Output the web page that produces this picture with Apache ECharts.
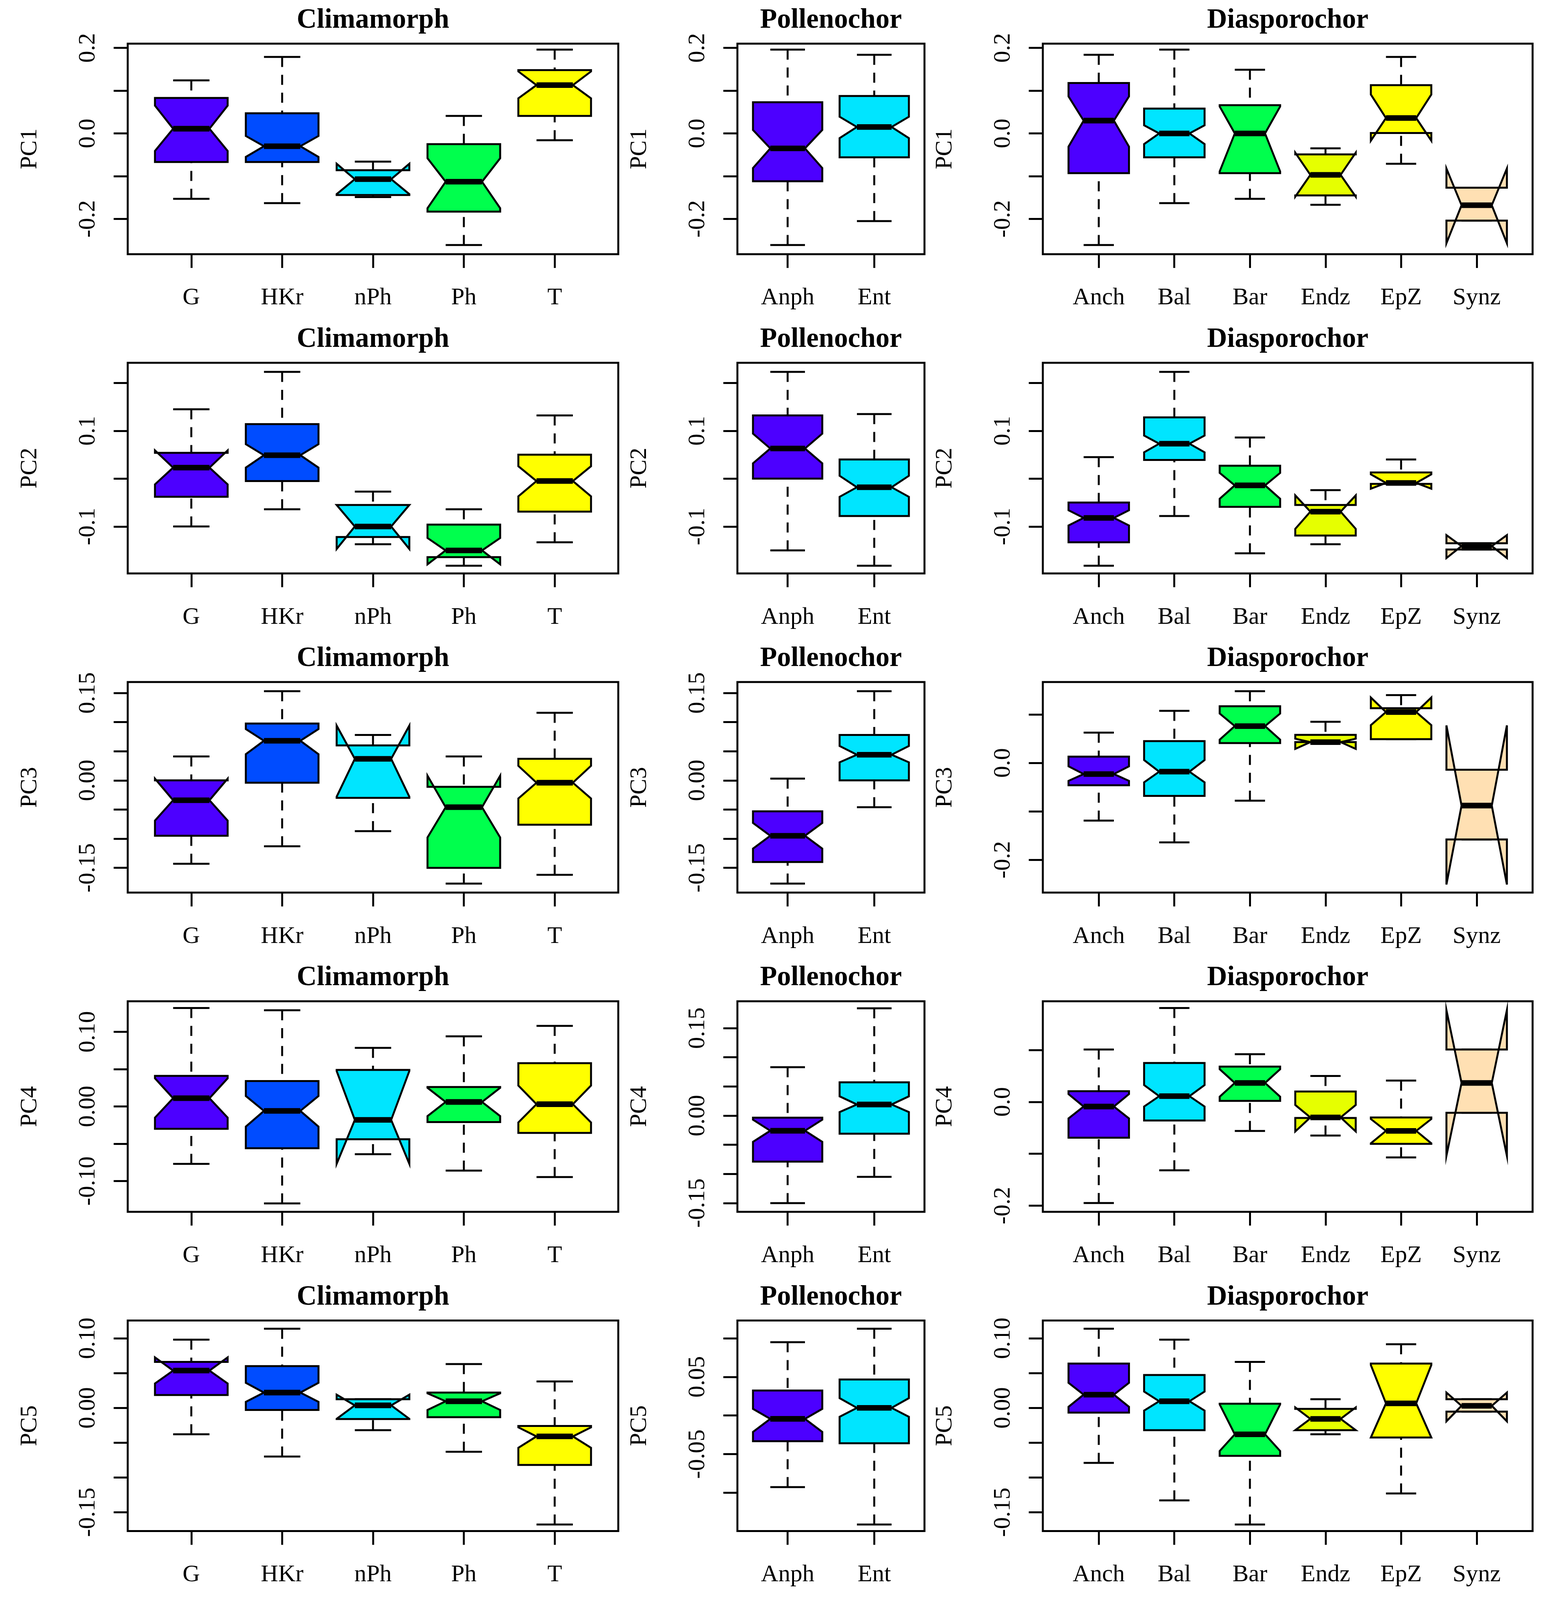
<!DOCTYPE html>
<html>
<head>
<meta charset="utf-8">
<script src="https://cdn.jsdelivr.net/npm/echarts@6/dist/echarts.min.js"></script>
<style>html,body{margin:0;padding:0;background:#fff;overflow:hidden}#c{width:3966px;height:4293px}</style>
</head>
<body>
<div id="c"></div>
<script>
// ---------- categories ----------
const climCats = ['G', 'HKr', 'nPh', 'Ph', 'T'];
const pollCats = ['Anph', 'Ent'];
const diasCats = ['Anch', 'Bal', 'Bar', 'Endz', 'EpZ', 'Synz'];
const pcNames = ['PC1', 'PC2', 'PC3', 'PC4', 'PC5'];
const groupTitles = ['Climamorph', 'Pollenochor', 'Diasporochor'];

// ---------- colours ----------
const climColors = ['#4C00FF', '#004CFF', '#00E5FF', '#00FF4D', '#FFFF00'];
const pollColors = ['#4C00FF', '#00E5FF'];
const diasColors = ['#4C00FF', '#00E5FF', '#00FF4D', '#E6FF00', '#FFFF00', '#FFE0B3'];

// ---------- box statistics: [lower whisker, Q1, notch low, median, notch high, Q3, upper whisker] ----------
const clim_PC1 = [
  [-0.153, -0.067, -0.041, 0.011, 0.065, 0.083, 0.124],
  [-0.163, -0.067, -0.055, -0.030, -0.006, 0.047, 0.179],
  [-0.149, -0.144, -0.142, -0.107, -0.071, -0.086, -0.066],
  [-0.261, -0.183, -0.175, -0.113, -0.058, -0.025, 0.041],
  [-0.016, 0.041, 0.082, 0.113, 0.145, 0.148, 0.196]
];
const poll_PC1 = [
  [-0.261, -0.112, -0.081, -0.035, 0.008, 0.073, 0.196],
  [-0.205, -0.056, -0.011, 0.015, 0.039, 0.0875, 0.184]
];
const dias_PC1 = [
  [-0.261, -0.093, -0.031, 0.030, 0.0865, 0.118, 0.184],
  [-0.163, -0.056, -0.025, 0.000, 0.019, 0.058, 0.196],
  [-0.153, -0.093, -0.089, 0.000, 0.063, 0.066, 0.149],
  [-0.167, -0.145, -0.148, -0.097, -0.045, -0.049, -0.035],
  [-0.071, 0.001, -0.017, 0.036, 0.091, 0.113, 0.179],
  [-0.204, -0.204, -0.257, -0.168, -0.082, -0.127, -0.127]
];

const clim_PC2 = [
  [-0.100, -0.038, -0.012, 0.023, 0.059, 0.054, 0.145],
  [-0.064, -0.005, 0.023, 0.049, 0.072, 0.114, 0.223],
  [-0.137, -0.122, -0.147, -0.100, -0.055, -0.055, -0.027],
  [-0.182, -0.164, -0.179, -0.150, -0.124, -0.096, -0.064],
  [-0.133, -0.069, -0.037, -0.005, 0.026, 0.050, 0.132]
];
const poll_PC2 = [
  [-0.150, 0.000, 0.032, 0.063, 0.094, 0.132, 0.223],
  [-0.182, -0.078, -0.038, -0.018, 0.006, 0.040, 0.135]
];
const dias_PC2 = [
  [-0.182, -0.133, -0.098, -0.082, -0.066, -0.050, 0.045],
  [-0.078, 0.039, 0.055, 0.073, 0.090, 0.128, 0.223],
  [-0.156, -0.059, -0.042, -0.014, 0.012, 0.027, 0.086],
  [-0.137, -0.119, -0.105, -0.069, -0.035, -0.055, -0.024],
  [-0.011, -0.011, -0.021, -0.009, 0.009, 0.013, 0.040],
  [-0.148, -0.148, -0.166, -0.141, -0.118, -0.135, -0.135]
];

const clim_PC3 = [
  [-0.143, -0.095, -0.069, -0.034, 0.003, 0.000, 0.041],
  [-0.113, -0.004, 0.045, 0.068, 0.088, 0.0975, 0.153],
  [-0.087, -0.030, -0.028, 0.037, 0.094, 0.060, 0.078],
  [-0.177, -0.150, -0.098, -0.046, 0.008, -0.011, 0.041],
  [-0.162, -0.076, -0.031, -0.004, 0.025, 0.037, 0.116]
];
const poll_PC3 = [
  [-0.177, -0.140, -0.117, -0.095, -0.073, -0.053, 0.003],
  [-0.046, 0.000, 0.031, 0.044, 0.059, 0.078, 0.153]
];
const dias_PC3 = [
  [-0.119, -0.046, -0.037, -0.023, -0.007, 0.013, 0.0625],
  [-0.164, -0.068, -0.040, -0.018, 0.006, 0.045, 0.1075],
  [-0.078, 0.041, 0.048, 0.076, 0.102, 0.117, 0.148],
  [0.043, 0.043, 0.029, 0.043, 0.050, 0.058, 0.085],
  [0.049, 0.049, 0.078, 0.105, 0.135, 0.113, 0.140],
  [-0.158, -0.158, -0.251, -0.088, 0.0775, -0.014, -0.014]
];

const clim_PC4 = [
  [-0.077, -0.030, -0.015, 0.011, 0.0377, 0.041, 0.132],
  [-0.130, -0.056, -0.027, -0.006, 0.014, 0.034, 0.129],
  [-0.064, -0.044, -0.077, -0.018, 0.0475, 0.049, 0.0785],
  [-0.086, -0.021, -0.013, 0.006, 0.025, 0.026, 0.094],
  [-0.0947, -0.0355, -0.0215, 0.003, 0.028, 0.058, 0.108]
];
const poll_PC4 = [
  [-0.150, -0.079, -0.045, -0.026, -0.007, -0.0036, 0.083],
  [-0.105, -0.031, 0.006, 0.019, 0.033, 0.057, 0.184]
];
const dias_PC4 = [
  [-0.195, -0.069, -0.032, -0.009, 0.015, 0.0205, 0.101],
  [-0.132, -0.036, -0.009, 0.011, 0.0325, 0.075, 0.181],
  [-0.056, 0.002, 0.010, 0.0365, 0.063, 0.068, 0.092],
  [-0.065, -0.031, -0.057, -0.030, -0.006, 0.020, 0.050],
  [-0.107, -0.081, -0.080, -0.056, -0.033, -0.030, 0.041],
  [-0.021, -0.021, -0.104, 0.0365, 0.177, 0.101, 0.101]
];

const clim_PC5 = [
  [-0.038, 0.0185, 0.035, 0.0536, 0.0726, 0.066, 0.098],
  [-0.070, -0.003, 0.0086, 0.022, 0.036, 0.060, 0.1137],
  [-0.032, -0.016, -0.0158, 0.0036, 0.019, 0.0125, 0.0125],
  [-0.063, -0.0134, -0.003, 0.0095, 0.021, 0.022, 0.063],
  [-0.1676, -0.082, -0.0574, -0.041, -0.028, -0.026, 0.038]
];
const poll_PC5 = [
  [-0.0927, -0.0332, -0.0212, -0.0043, 0.0086, 0.0324, 0.0949],
  [-0.141, -0.0359, -0.0016, 0.0099, 0.0225, 0.0466, 0.1123]
];
const dias_PC5 = [
  [-0.079, -0.0068, 0.0015, 0.019, 0.036, 0.0637, 0.1137],
  [-0.133, -0.032, -0.0039, 0.0095, 0.0235, 0.0473, 0.098],
  [-0.1676, -0.069, -0.062, -0.038, 0.005, 0.006, 0.066],
  [-0.038, -0.032, -0.032, -0.0158, 0.0006, -0.0015, 0.0125],
  [-0.123, -0.0426, -0.0426, 0.0065, 0.0616, 0.0637, 0.0914],
  [-0.0054, -0.0054, -0.0193, 0.003, 0.022, 0.0125, 0.0125]
];

// ---------- y axis ranges, tick values and labelled ticks ----------
const yRanges = [
  [[-0.2825, 0.2101], [-0.2825, 0.2101], [-0.2825, 0.2101]],
  [[-0.198, 0.242], [-0.198, 0.242], [-0.198, 0.242]],
  [[-0.1925, 0.1687], [-0.1925, 0.1687], [-0.2677, 0.167]],
  [[-0.1413, 0.141], [-0.165, 0.196], [-0.212, 0.194]],
  [[-0.177, 0.1256], [-0.1495, 0.123], [-0.177, 0.1256]]
];
const ticksA = [-0.2, -0.1, 0, 0.1, 0.2];
const ticksB = [-0.1, 0, 0.1, 0.2];
const ticksC = [-0.15, -0.1, -0.05, 0, 0.05, 0.1, 0.15];
const ticksD = [-0.2, -0.1, 0, 0.1];
const ticksE = [-0.1, -0.05, 0, 0.05, 0.1];
const ticksF = [-0.15, -0.1, -0.05, 0, 0.05, 0.1];
const yTicks = [
  [ticksA, ticksA, ticksA],
  [ticksB, ticksB, ticksB],
  [ticksC, ticksC, ticksD],
  [ticksE, ticksC, ticksD],
  [ticksF, ticksF, ticksF]
];
const yLabels = [
  [[-0.2, 0, 0.2], [-0.2, 0, 0.2], [-0.2, 0, 0.2]],
  [[-0.1, 0.1], [-0.1, 0.1], [-0.1, 0.1]],
  [[-0.15, 0, 0.15], [-0.15, 0, 0.15], [-0.2, 0]],
  [[-0.1, 0, 0.1], [-0.15, 0, 0.15], [-0.2, 0]],
  [[-0.15, 0, 0.1], [-0.15, -0.05, 0.05], [-0.15, 0, 0.1]]
];
const yDecimals = [
  [1, 1, 1],
  [1, 1, 1],
  [2, 2, 1],
  [2, 2, 1],
  [2, 2, 2]
];

const allData = [
  [clim_PC1, poll_PC1, dias_PC1],
  [clim_PC2, poll_PC2, dias_PC2],
  [clim_PC3, poll_PC3, dias_PC3],
  [clim_PC4, poll_PC4, dias_PC4],
  [clim_PC5, poll_PC5, dias_PC5]
];
const allCats = [climCats, pollCats, diasCats];
const allColors = [climColors, pollColors, diasColors];

// ---------- layout (designed for 3966 x 4293, fitted to the visible viewport) ----------
const VW = window.innerWidth || 3966;
const VH = window.innerHeight || 4293;
const sx = Math.min(1, VW / 3966);
const sy = Math.min(1, VH / 4293);
const fs = Math.sqrt(sx * sy);
const el = document.getElementById('c');
el.style.width = Math.round(3966 * sx) + 'px';
el.style.height = Math.round(4293 * sy) + 'px';

const colLeft = [327, 1888, 2670];
const colWidth = [1256, 479, 1254];
const rowTop0 = 117, rowPitch = 856.5, boxH = 565;
const FONT = 'Liberation Serif';

function renderBox(params, api) {
  const x = api.value(0);
  const lw = api.value(1), q1 = api.value(2), clo = api.value(3), med = api.value(4),
        chi = api.value(5), q3 = api.value(6), uw = api.value(7);
  const W = 0.4, NF = 0.5, SW = 0.2;
  const c = (dx, v) => api.coord([x + dx, v]);
  const line = (p1, p2, style) => ({ type: 'line', shape: { x1: p1[0], y1: p1[1], x2: p2[0], y2: p2[1] }, style: style });
  const dash = { stroke: '#000', lineWidth: 5, lineDash: [27 * sy, 21 * sy] };
  const solid = { stroke: '#000', lineWidth: 5 };
  const poly = [c(-W, q1), c(W, q1), c(W, clo), c(W * NF, med), c(W, chi), c(W, q3),
                c(-W, q3), c(-W, chi), c(-W * NF, med), c(-W, clo)];
  const children = [];
  const lwP = c(0, lw), q1P = c(0, q1), uwP = c(0, uw), q3P = c(0, q3);
  if (Math.abs(lwP[1] - q1P[1]) > 0.5) children.push(line(lwP, q1P, dash));
  if (Math.abs(uwP[1] - q3P[1]) > 0.5) children.push(line(uwP, q3P, dash));
  children.push(line(c(-SW, lw), c(SW, lw), solid));
  children.push(line(c(-SW, uw), c(SW, uw), solid));
  children.push({ type: 'polygon', shape: { points: poly }, style: { fill: api.visual('color'), stroke: '#000', lineWidth: 5, lineJoin: 'miter' } });
  children.push(line(c(-W * NF, med), c(W * NF, med), { stroke: '#000', lineWidth: 15 * sy }));
  return { type: 'group', children: children };
}

const grids = [], xAxes = [], yAxes = [], series = [], graphics = [];
for (let r = 0; r < 5; r++) {
  for (let g = 0; g < 3; g++) {
    const idx = r * 3 + g;
    const cats = allCats[g];
    const n = cats.length;
    const top = (rowTop0 + r * rowPitch) * sy;
    grids.push({
      left: colLeft[g] * sx, top: top, width: colWidth[g] * sx, height: boxH * sy,
      show: true, borderColor: '#000', borderWidth: 5, backgroundColor: 'transparent',
      containLabel: false, outerBoundsMode: 'none'
    });
    const xs = cats.map((_, i) => i + 1);
    xAxes.push({
      type: 'value', gridIndex: idx, position: 'bottom', min: 0.5 - 0.04 * n, max: n + 0.5 + 0.04 * n,
      axisLine: { show: false, onZero: false }, splitLine: { show: false },
      axisTick: { show: true, length: 37 * sy, lineStyle: { color: '#000', width: 5 }, customValues: xs },
      axisLabel: {
        show: true, customValues: xs, formatter: v => cats[Math.round(v) - 1],
        margin: 118 * sy, fontSize: 63 * fs, fontFamily: FONT, color: '#000', align: 'center', verticalAlign: 'middle'
      }
    });
    const dec = yDecimals[r][g];
    yAxes.push({
      type: 'value', gridIndex: idx, position: 'left', min: yRanges[r][g][0], max: yRanges[r][g][1],
      axisLine: { show: false, onZero: false }, splitLine: { show: false },
      axisTick: { show: true, length: 36 * sx, lineStyle: { color: '#000', width: 5 }, customValues: yTicks[r][g] },
      axisLabel: {
        show: true, customValues: yLabels[r][g], formatter: v => Number(v).toFixed(dec),
        rotate: 90, margin: 101 * sx, align: 'center', verticalAlign: 'middle',
        fontSize: 62 * fs, fontFamily: FONT, color: '#000'
      },
      name: pcNames[r], nameLocation: 'middle', nameGap: 250 * sx,
      nameTextStyle: { fontSize: 62 * fs, fontFamily: FONT, color: '#000', align: 'center', verticalAlign: 'middle' }
    });
    series.push({
      type: 'custom', xAxisIndex: idx, yAxisIndex: idx, coordinateSystem: 'cartesian2d',
      renderItem: renderBox, clip: false,
      encode: { x: 0, y: [1, 2, 3, 4, 5, 6, 7] },
      data: allData[r][g].map((s, i) => ({ value: [i + 1].concat(s), itemStyle: { color: allColors[g][i] } }))
    });
    graphics.push({
      type: 'text', x: (colLeft[g] + colWidth[g] / 2) * sx, y: top - 62 * sy,
      style: {
        text: groupTitles[g], font: 'bold ' + Math.round(73 * fs) + 'px "' + FONT + '"', fill: '#000',
        textAlign: 'center', textVerticalAlign: 'middle', align: 'center', verticalAlign: 'middle'
      }
    });
  }
}

const chart = echarts.init(el, null, { renderer: 'canvas' });
chart.setOption({
  animation: false,
  backgroundColor: '#fff',
  grid: grids,
  xAxis: xAxes,
  yAxis: yAxes,
  series: series,
  graphic: graphics
});
</script>
</body>
</html>
